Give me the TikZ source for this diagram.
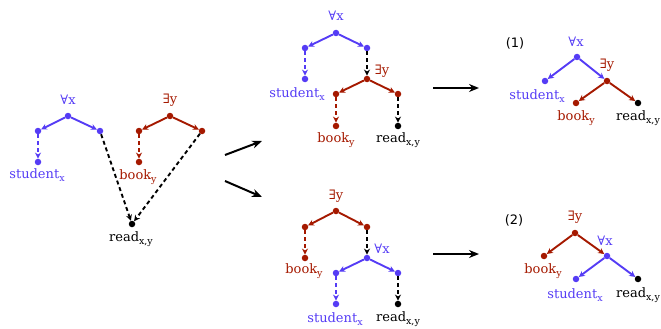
\documentclass[tikz,border=0pt]{standalone}
\usepackage{fontspec}
\setmainfont{DejaVu Serif}
\newfontfamily\numfont{DejaVu Sans}
\usetikzlibrary{arrows.meta}
\definecolor{qblue}{RGB}{85,60,245}
\definecolor{qred}{RGB}{165,25,0}
\definecolor{qblack}{RGB}{0,0,0}
\newcommand\lsub[1]{\raisebox{-0.45ex}{\fontsize{9.5}{9.5}\selectfont #1}}
\begin{document}
\begin{tikzpicture}[x=1pt,y=-1pt,
 dot/.style={circle,fill,inner sep=0pt,minimum size=6.5pt},
 lab/.style={inner sep=0pt,font=\fontsize{13}{15}\selectfont},
 num/.style={inner sep=0pt,font=\numfont\fontsize{13}{15}\selectfont},
 edge/.style={-{Stealth[length=6pt,width=6pt]},line width=1.9pt},
 dedge/.style={edge,dash pattern=on 4pt off 3pt},
 big/.style={-{Stealth[length=10pt,width=8pt]},line width=2pt}]
\useasboundingbox (0,0) rectangle (661,329);

% ---------- left panel ----------
\node[dot,qblue] (A) at (68,116) {};
\node[dot,qblue] (Al) at (38,131) {};
\node[dot,qblue] (Ar) at (100,131) {};
\node[dot,qblue] (As) at (38,162) {};
\node[lab,qblue] (Alab) at (68,100) {∀x};
\node[lab,qblue] (Aslab) at (37,175) {student\lsub{x}};
\node[dot,qred] (E) at (170,116) {};
\node[dot,qred] (El) at (139,131) {};
\node[dot,qred] (Er) at (202,131) {};
\node[dot,qred] (Eb) at (139,162) {};
\node[lab,qred] (Elab) at (170,100) {∃y};
\node[lab,qred] (Eblab) at (138,177) {book\lsub{y}};
\node[dot,qblack] (R) at (132,224) {};
\node[lab] (Rlab) at (131,239) {read\lsub{x,y}};
\draw[edge,qblue] (A) -- (Al);
\draw[edge,qblue] (A) -- (Ar);
\draw[dedge,qblue] (Al) -- (As);
\draw[edge,qred] (E) -- (El);
\draw[edge,qred] (E) -- (Er);
\draw[dedge,qred] (El) -- (Eb);
\draw[dedge] (Ar) -- (R);
\draw[dedge] (Er) -- (R);

% ---------- middle top ----------
\node[dot,qblue] (B) at (336,33) {};
\node[dot,qblue] (Bl) at (305,48) {};
\node[dot,qblue] (Br) at (367,48) {};
\node[dot,qblue] (Bs) at (305,79) {};
\node[lab,qblue] (Blab) at (336,16) {∀x};
\node[lab,qblue] (Bslab) at (297,94) {student\lsub{x}};
\node[dot,qred] (C) at (367,79) {};
\node[dot,qred] (Cl) at (336,94) {};
\node[dot,qred] (Cr) at (398,94) {};
\node[dot,qred] (Cb) at (336,126) {};
\node[dot,qblack] (Cd) at (398,126) {};
\node[lab,qred] (Clab) at (382,71) {∃y};
\node[lab,qred] (Cblab) at (336,140) {book\lsub{y}};
\node[lab] (Cdlab) at (398,140) {read\lsub{x,y}};
\draw[edge,qblue] (B) -- (Bl);
\draw[edge,qblue] (B) -- (Br);
\draw[dedge,qblue] (Bl) -- (Bs);
\draw[dedge] (Br) -- (C);
\draw[edge,qred] (C) -- (Cl);
\draw[edge,qred] (C) -- (Cr);
\draw[dedge,qred] (Cl) -- (Cb);
\draw[dedge] (Cr) -- (Cd);

% ---------- middle bottom ----------
\node[dot,qred] (D) at (336,211) {};
\node[dot,qred] (Dl) at (305,227) {};
\node[dot,qred] (Dr) at (367,227) {};
\node[dot,qred] (Db) at (305,258) {};
\node[lab,qred] (Dlab) at (336,196) {∃y};
\node[lab,qred] (Dblab) at (304,271) {book\lsub{y}};
\node[dot,qblue] (F) at (367,258) {};
\node[dot,qblue] (Fl) at (336,273) {};
\node[dot,qblue] (Fr) at (398,273) {};
\node[dot,qblue] (Fs) at (336,304) {};
\node[dot,qblack] (Fd) at (398,304) {};
\node[lab,qblue] (Flab) at (382,249) {∀x};
\node[lab,qblue] (Fslab) at (335,319) {student\lsub{x}};
\node[lab] (Fdlab) at (398,319) {read\lsub{x,y}};
\draw[edge,qred] (D) -- (Dl);
\draw[edge,qred] (D) -- (Dr);
\draw[dedge,qred] (Dl) -- (Db);
\draw[dedge] (Dr) -- (F);
\draw[edge,qblue] (F) -- (Fl);
\draw[edge,qblue] (F) -- (Fr);
\draw[dedge,qblue] (Fl) -- (Fs);
\draw[dedge] (Fr) -- (Fd);

% ---------- right top (1) ----------
\node[num] (n1) at (515,43) {(1)};
\node[dot,qblue] (G) at (577,57) {};
\node[dot,qblue] (Gs) at (545,81) {};
\node[lab,qblue] (Glab) at (576,42) {∀x};
\node[lab,qblue] (Gslab) at (537,96) {student\lsub{x}};
\node[dot,qred] (H) at (607,81) {};
\node[dot,qred] (Hb) at (576,103) {};
\node[dot,qblack] (Hd) at (638,103) {};
\node[lab,qred] (Hlab) at (607,65) {∃y};
\node[lab,qred] (Hblab) at (576,118) {book\lsub{y}};
\node[lab] (Hdlab) at (638,118) {read\lsub{x,y}};
\draw[edge,qblue] (G) -- (Gs);
\draw[edge,qblue] (G) -- (H);
\draw[edge,qred] (H) -- (Hb);
\draw[edge,qred] (H) -- (Hd);

% ---------- right bottom (2) ----------
\node[num] (n2) at (514,220) {(2)};
\node[dot,qred] (K) at (575,233) {};
\node[dot,qred] (Kb) at (544,256) {};
\node[lab,qred] (Klab) at (575,217) {∃y};
\node[lab,qred] (Kblab) at (543,271) {book\lsub{y}};
\node[dot,qblue] (L) at (607,256) {};
\node[dot,qblue] (Ls) at (576,279) {};
\node[dot,qblack] (Ld) at (638,279) {};
\node[lab,qblue] (Llab) at (605,241) {∀x};
\node[lab,qblue] (Lslab) at (575,295) {student\lsub{x}};
\node[lab] (Ldlab) at (638,295) {read\lsub{x,y}};
\draw[edge,qred] (K) -- (Kb);
\draw[edge,qred] (K) -- (L);
\draw[edge,qblue] (L) -- (Ls);
\draw[edge,qblue] (L) -- (Ld);

% ---------- big arrows ----------
\coordinate (a1s) at (225,155);
\coordinate (a1e) at (262,141);
\coordinate (a2s) at (225,181);
\coordinate (a2e) at (262,197);
\coordinate (a3s) at (433,88);
\coordinate (a3e) at (479,88);
\coordinate (a4s) at (433,254);
\coordinate (a4e) at (479,254);
\draw[big] (a1s) -- (a1e);
\draw[big] (a2s) -- (a2e);
\draw[big] (a3s) -- (a3e);
\draw[big] (a4s) -- (a4e);
\end{tikzpicture}
\end{document}
